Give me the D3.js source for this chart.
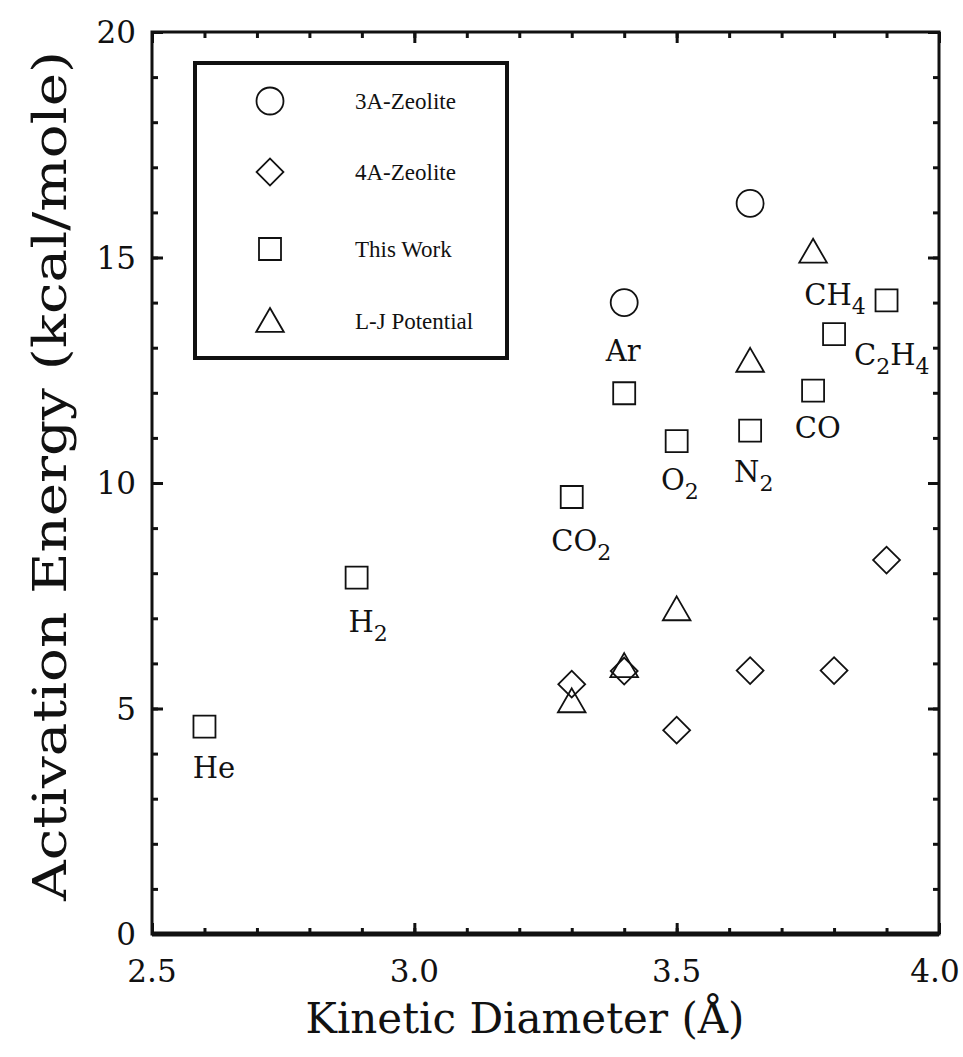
<!DOCTYPE html>
<html>
<head>
<meta charset="utf-8">
<script src="https://cdn.jsdelivr.net/npm/d3@7"></script>
<style>
  body { margin: 0; background: #fff; }
  text { fill: #111; }
</style>
</head>
<body>
<div id="chart"></div>
<script>
// kinetic diameter (Å), activation energy (kcal/mole)
const zeolite3A = [[3.40, 14.0], [3.64, 16.2]];
const zeolite4A = [[3.30, 5.54], [3.40, 5.83], [3.50, 4.52], [3.64, 5.84], [3.80, 5.84], [3.90, 8.29]];
const thisWork = [[2.60, 4.60], [2.89, 7.90], [3.30, 9.69], [3.40, 11.99], [3.50, 10.93],
                  [3.64, 11.16], [3.76, 12.05], [3.80, 13.30], [3.90, 14.05]];
const ljPotential = [[3.30, 5.16], [3.40, 5.94], [3.50, 7.20], [3.64, 12.71], [3.76, 15.13]];

// gas labels: text, following pieces, anchor in data units
const gasLabels = [
  ['He', [], 2.618, 3.46],
  ['H', ['2'], 2.912, 6.70],
  ['CO', ['2'], 3.318, 8.49],
  ['Ar', [], 3.398, 12.70],
  ['O', ['2'], 3.506, 9.84],
  ['N', ['2'], 3.647, 10.02],
  ['CO', [], 3.769, 11.00],
  ['CH', ['4'], 3.802, 13.95],
  ['C', ['2', 'H', '4'], 3.910, 12.62]
];

const xTicks = [2.5, 3.0, 3.5, 4.0];
const yTicks = [0, 5, 10, 15, 20];
const legendItems = ['3A-Zeolite', '4A-Zeolite', 'This Work', 'L-J Potential'];

const W = 963, H = 1057;
const margin = {top: 32, right: 24, bottom: 123, left: 152};
const width = W - margin.left - margin.right;
const height = H - margin.top - margin.bottom;

const svg = d3.select('#chart').append('svg')
  .attr('width', W).attr('height', H);
const g = svg.append('g')
  .attr('transform', 'translate(' + margin.left + ',' + margin.top + ')');

const x = d3.scaleLinear().domain([2.5, 4.0]).range([0, width]);
const y = d3.scaleLinear().domain([0, 20]).range([height, 0]);

const serif = "'DejaVu Serif', serif";

// inward ticks on all four sides
const minorX = d3.range(2.5, 4.001, 0.1);
const minorY = d3.range(0, 20.001, 1);
function tickAxis(axisFn, scale, vals, size, tr) {
  g.append('g')
    .attr('transform', tr)
    .call(axisFn(scale).tickValues(vals).tickSize(size).tickFormat(''))
    .call(s => s.select('.domain').remove())
    .selectAll('line').attr('stroke', '#111').attr('stroke-width', 3);
}
tickAxis(d3.axisTop, x, minorX, 6, 'translate(0,' + height + ')');
tickAxis(d3.axisTop, x, xTicks, 11, 'translate(0,' + height + ')');
tickAxis(d3.axisBottom, x, minorX, 6, 'translate(0,0)');
tickAxis(d3.axisBottom, x, xTicks, 11, 'translate(0,0)');
tickAxis(d3.axisRight, y, minorY, 6, 'translate(0,0)');
tickAxis(d3.axisRight, y, yTicks, 11, 'translate(0,0)');
tickAxis(d3.axisLeft, y, minorY, 6, 'translate(' + width + ',0)');
tickAxis(d3.axisLeft, y, yTicks, 11, 'translate(' + width + ',0)');

// frame
g.append('rect')
  .attr('x', 0).attr('y', 0).attr('width', width).attr('height', height)
  .attr('fill', 'none').attr('stroke', '#111').attr('stroke-width', 3);
g.append('line')
  .attr('x1', 0).attr('x2', width).attr('y1', height).attr('y2', height)
  .attr('stroke', '#111').attr('stroke-width', 5);

// tick labels
g.selectAll('.xl').data(xTicks).join('text')
  .attr('x', d => x(d)).attr('y', height + 48)
  .attr('dx', (d, i) => i === xTicks.length - 1 ? -4 : 0)
  .attr('text-anchor', 'middle')
  .style('font-family', serif).style('font-size', '31px')
  .text(d3.format('.1f'));
g.selectAll('.yl').data(yTicks).join('text')
  .attr('x', -16).attr('y', d => y(d) + 11)
  .attr('text-anchor', 'end')
  .style('font-family', serif).style('font-size', '31px')
  .text(d => d);

// axis titles
svg.append('text')
  .attr('x', 525).attr('y', H - 24)
  .attr('text-anchor', 'middle')
  .style('font-family', serif).style('font-size', '42px')
  .text('Kinetic Diameter (Å)');
svg.append('text')
  .attr('transform', 'translate(66,' + 476 + ') rotate(-90)')
  .attr('text-anchor', 'middle')
  .attr('textLength', 850).attr('lengthAdjust', 'spacingAndGlyphs')
  .style('font-family', serif).style('font-size', '46px')
  .text('Activation Energy (kcal/mole)');

// marker shapes
const sym = {
  circle: d3.symbol().type(d3.symbolCircle).size(Math.PI * 13.5 * 13.5),
  diamond: d3.symbol().type(d3.symbolSquare).size(19 * 19),
  square: d3.symbol().type(d3.symbolSquare).size(22 * 22),
  triangle: d3.symbol().type(d3.symbolTriangle).size(330)
};
function drawSeries(data, kind) {
  g.append('g').selectAll('path').data(data).join('path')
    .attr('d', sym[kind])
    .attr('transform', d => 'translate(' + x(d[0]) + ',' + y(d[1]) + ')' +
      (kind === 'diamond' ? ' rotate(45)' : '') +
      (kind === 'triangle' ? ' translate(0,3)' : ''))
    .attr('fill', 'none').attr('stroke', '#111').attr('stroke-width', 1.8);
}
drawSeries(zeolite3A, 'circle');
drawSeries(zeolite4A, 'diamond');
drawSeries(thisWork, 'square');
drawSeries(ljPotential, 'triangle');

// gas labels
gasLabels.forEach(([main, subs, lx, ly]) => {
  const t = g.append('text')
    .attr('x', x(lx)).attr('y', y(ly))
    .attr('text-anchor', 'middle')
    .style('font-family', serif).style('font-size', '29px')
    .text(main);
  let down = false;
  subs.forEach(s => {
    const isSub = /\d/.test(s);
    const dy = isSub ? (down ? 0 : 9) : (down ? -9 : 0);
    t.append('tspan')
      .attr('dy', dy)
      .style('font-size', isSub ? '22px' : '29px')
      .text(s);
    down = isSub;
  });
});

// legend
const legend = svg.append('g');
legend.append('rect')
  .attr('x', 195).attr('y', 63).attr('width', 312).attr('height', 295)
  .attr('fill', '#fff').attr('stroke', '#111').attr('stroke-width', 4);
const legendY = [101, 172, 249, 321];
const kinds = ['circle', 'diamond', 'square', 'triangle'];
legendItems.forEach((name, i) => {
  legend.append('path')
    .attr('d', sym[kinds[i]])
    .attr('transform', 'translate(270,' + legendY[i] + ')' +
      (kinds[i] === 'diamond' ? ' rotate(45)' : '') +
      (kinds[i] === 'triangle' ? ' translate(0,3)' : ''))
    .attr('fill', 'none').attr('stroke', '#111').attr('stroke-width', 1.8);
  legend.append('text')
    .attr('x', 355).attr('y', legendY[i] + 8)
    .style('font-family', "'Liberation Serif', serif").style('font-size', '23px')
    .text(name);
});
</script>
</body>
</html>
